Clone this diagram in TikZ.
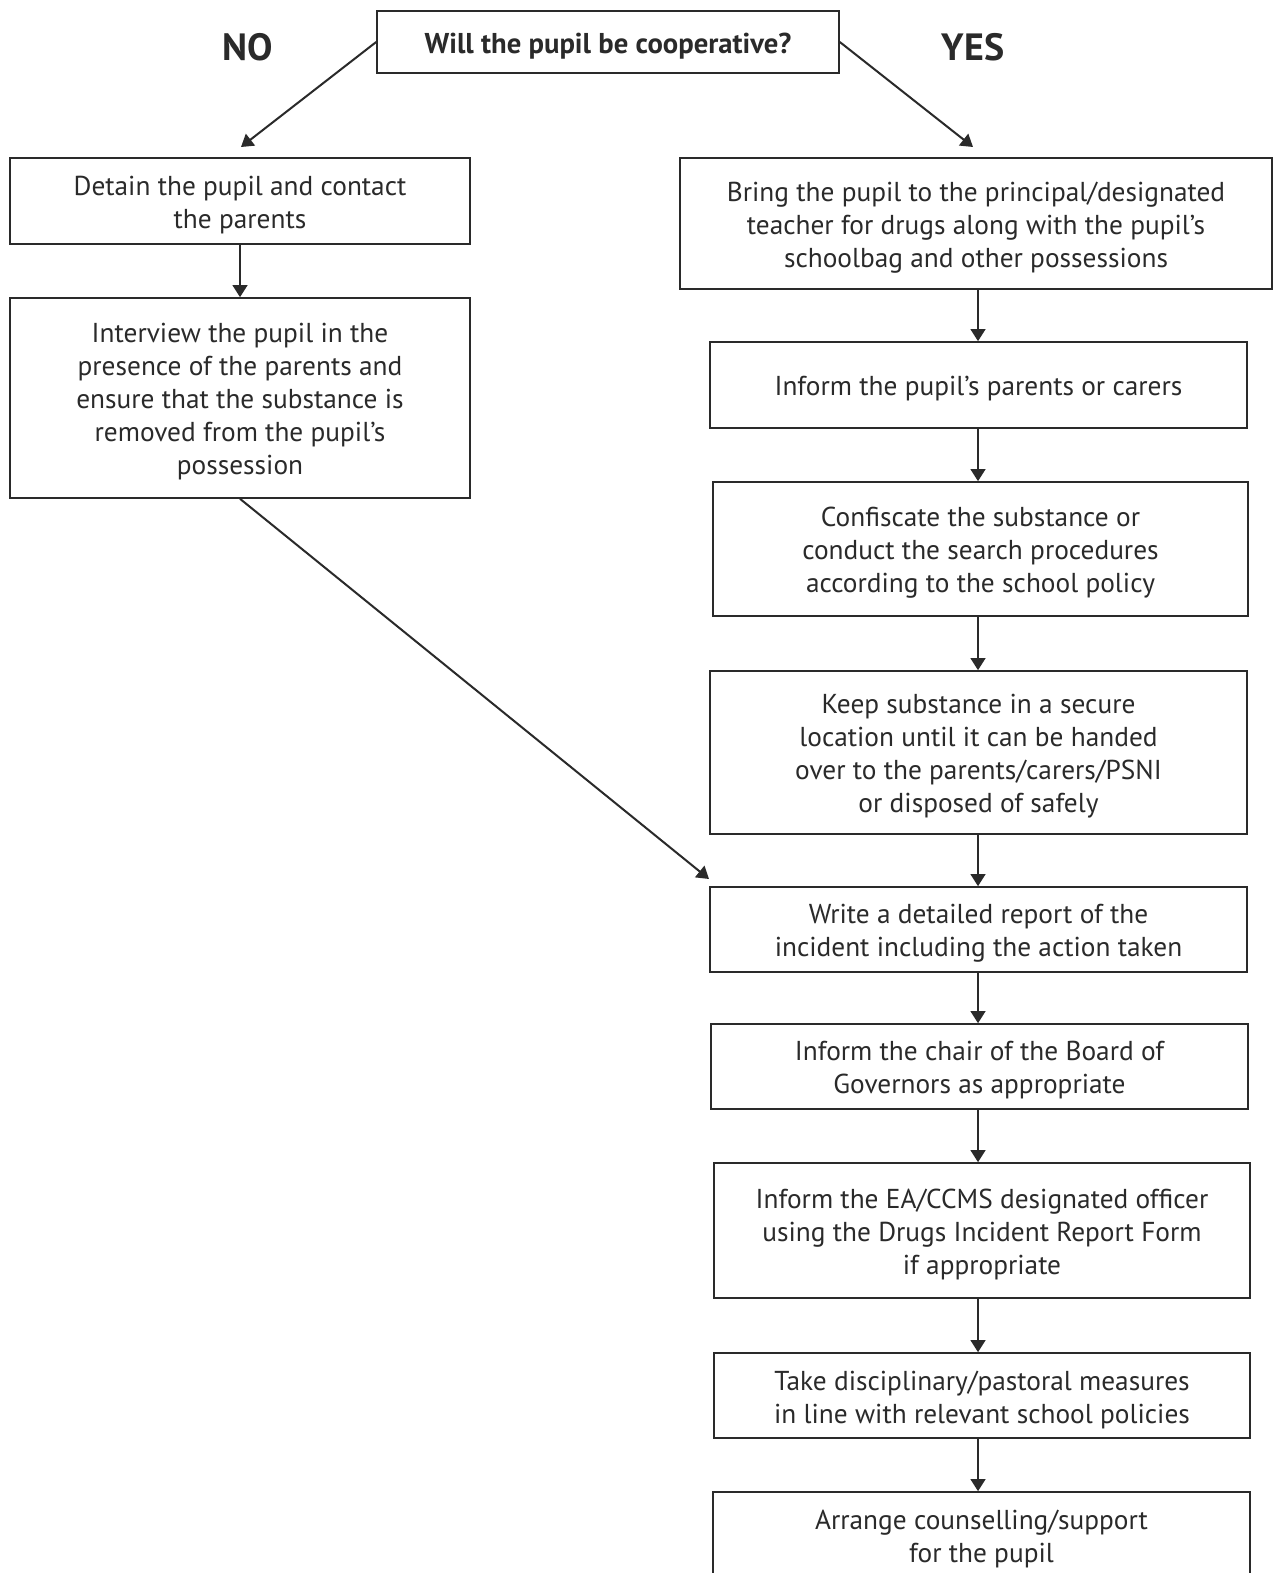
\documentclass[tikz,border=0pt]{standalone}
\usepackage{fontspec}
\setmainfont{PT Sans}
\usetikzlibrary{arrows.meta}
\definecolor{ink}{HTML}{2A2A2A}
\tikzset{
  box/.style={draw=ink, line width=1.2pt, inner sep=0pt},
  boxtext/.style={align=center, text=ink, inner sep=0pt,
    font=\fontsize{20.5}{24.75}\selectfont},
  flow/.style={draw=ink, line width=1.5pt, -{Triangle[width=11pt,length=9pt]}},
  lbl/.style={text=ink, font=\fontsize{28.5}{32}\selectfont\bfseries}
}
% #1 name, #2 cx, #3 cy, #4 width px, #5 height px, #6 text
\newcommand\flowbox[6]{%
  \node[box, minimum width=#4*0.75pt, minimum height=#5*0.75pt] (#1) at (#2,#3) {};
  \node[boxtext] (#1t) at ([yshift=-3pt]#1.center) {#6};
}
\begin{document}
\begin{tikzpicture}[x=0.75pt,y=-0.75pt]
\useasboundingbox (0,0) rectangle (1274,1573);
\clip (0,0) rectangle (1274,1573);
\fill[white] (0,0) rectangle (1274,1573);

\node[box, minimum width=462*0.75pt, minimum height=62*0.75pt] (q) at (608,42) {};
\node[boxtext, font=\fontsize{21.5}{24}\selectfont\bfseries] (qt) at ([yshift=-3pt]q.center) {Will the pupil be cooperative?};
\node[lbl] (no) at (248,47) {NO};
\node[lbl] (yes) at (973,47) {YES};

\flowbox{l1}{240}{201}{460}{86}{Detain the pupil and contact\\the parents}
\flowbox{l2}{240}{398}{460}{200}{Interview the pupil in the\\presence of the parents and\\ensure that the substance is\\removed from the pupil’s\\possession}

\flowbox{r1}{976}{223.5}{592}{131}{Bring the pupil to the principal/designated\\teacher for drugs along with the pupil’s\\schoolbag and other possessions}
\flowbox{r2}{978.5}{385}{537}{86}{Inform the pupil’s parents or carers}
\flowbox{r3}{980.5}{549}{535}{134}{Confiscate the substance or\\conduct the search procedures\\according to the school policy}
\flowbox{r4}{978.5}{752.5}{537}{163}{Keep substance in a secure\\location until it can be handed\\over to the parents/carers/PSNI\\or disposed of safely}
\flowbox{r5}{978.5}{929.5}{537}{85}{Write a detailed report of the\\incident including the action taken}
\flowbox{r6}{979.5}{1066.5}{537}{85}{Inform the chair of the Board of\\Governors as appropriate}
\flowbox{r7}{982}{1230.5}{536}{135}{Inform the EA/CCMS designated officer\\using the Drugs Incident Report Form\\if appropriate}
\flowbox{r8}{982}{1395.5}{536}{85}{Take disciplinary/pastoral measures\\in line with relevant school policies}
\flowbox{r9}{981.5}{1535}{537}{86}{Arrange counselling/support\\for the pupil}

\coordinate (xr) at (978,0);
\coordinate (nt) at (241,147);
\coordinate (yt) at (973,147);
\coordinate (lt) at (709,879);

\draw[flow] (q.west) -- (nt);
\draw[flow] (q.east) -- (yt);
\draw[flow] (l1.south) -- (l2.north);
\draw[flow] (l2.south) -- (lt);
\draw[flow] (r1.south -| xr) -- (r2.north -| xr);
\draw[flow] (r2.south -| xr) -- (r3.north -| xr);
\draw[flow] (r3.south -| xr) -- (r4.north -| xr);
\draw[flow] (r4.south -| xr) -- (r5.north -| xr);
\draw[flow] (r5.south -| xr) -- (r6.north -| xr);
\draw[flow] (r6.south -| xr) -- (r7.north -| xr);
\draw[flow] (r7.south -| xr) -- (r8.north -| xr);
\draw[flow] (r8.south -| xr) -- (r9.north -| xr);
\end{tikzpicture}
\end{document}
